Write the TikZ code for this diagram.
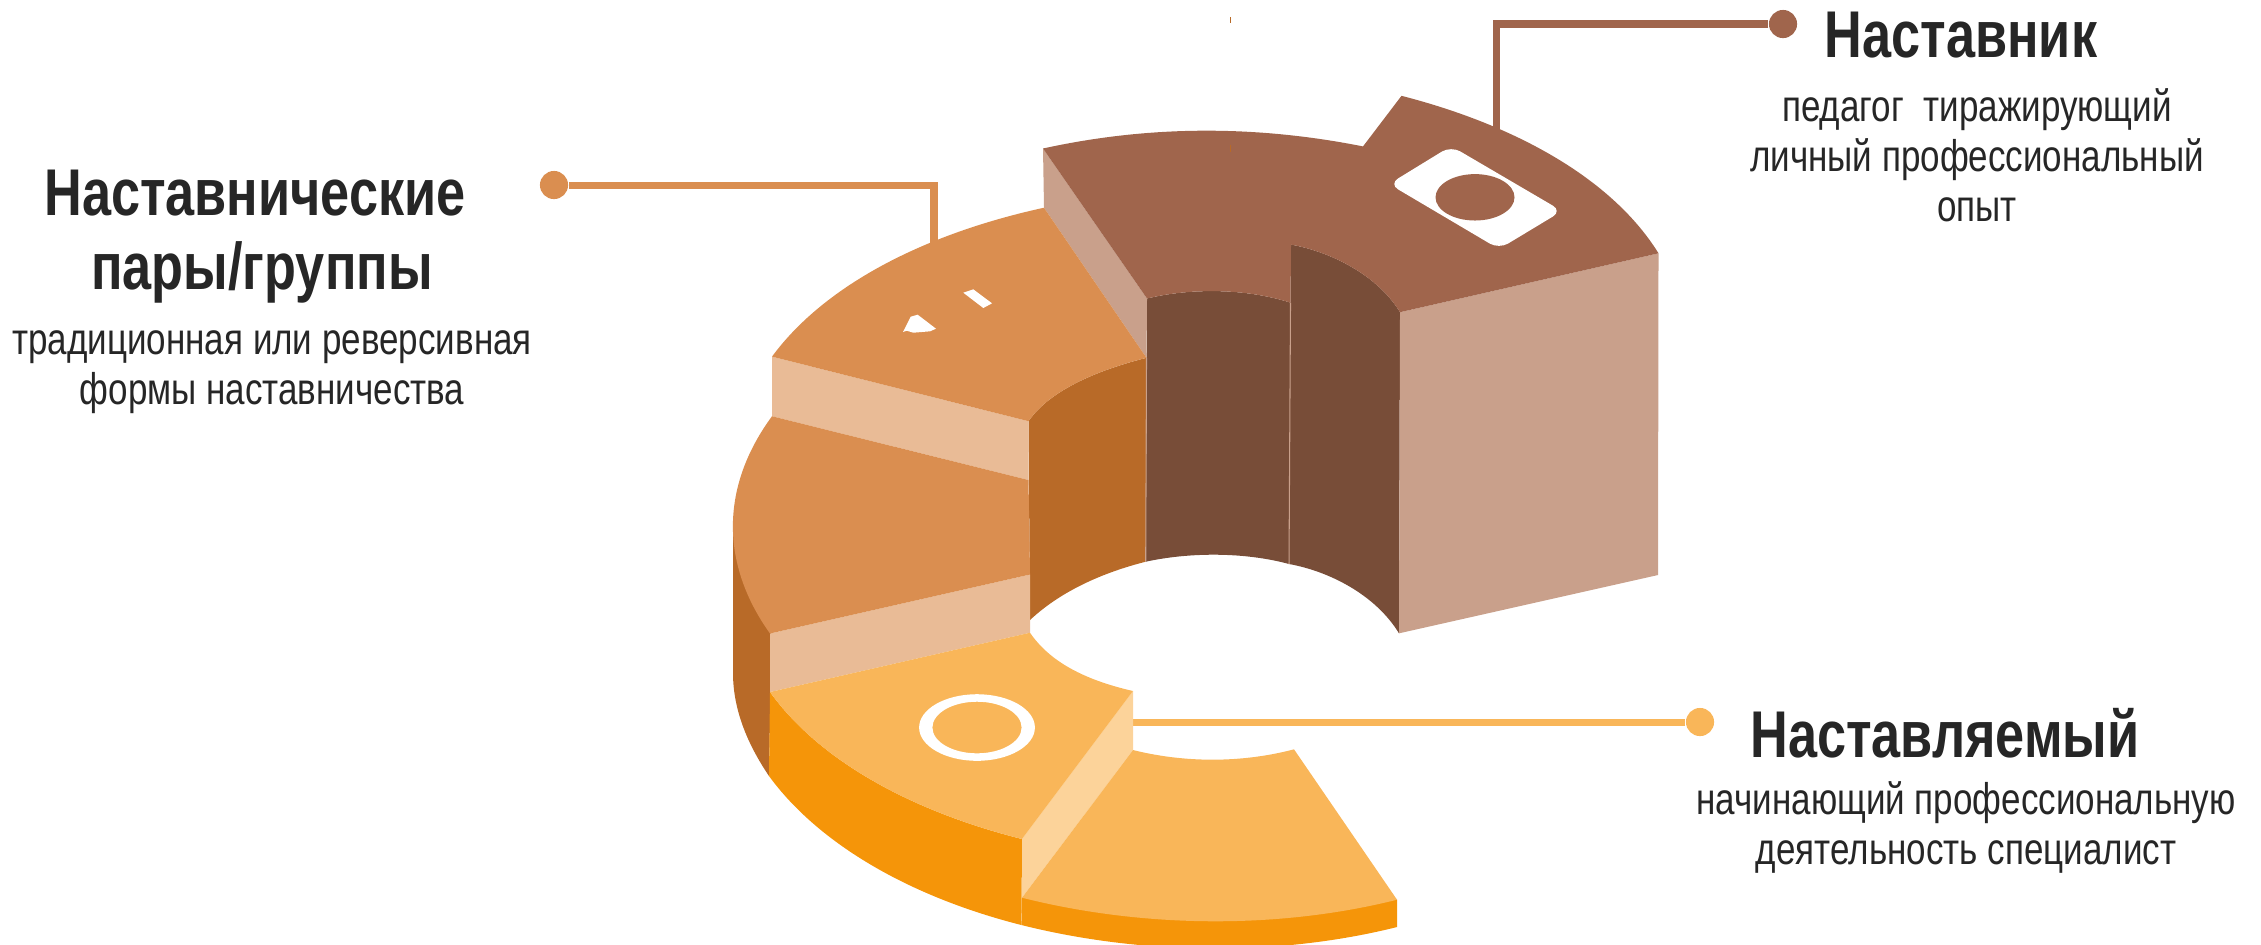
\documentclass[tikz,border=0pt]{standalone}
\usepackage{fontspec}
\usepackage{xcolor}
\usepackage{tikz}
\usetikzlibrary{
  positioning,
  shapes.geometric
}
\setmainfont[FakeStretch=0.79]{Liberation Sans}
\definecolor{mtBrown}{HTML}{A0654C}
\definecolor{mtBrownLt}{HTML}{C9A08B}
\definecolor{mtBrownDk}{HTML}{784D38}
\definecolor{mtOrange}{HTML}{DA8E50}
\definecolor{mtOrangeLt}{HTML}{E9BB96}
\definecolor{mtOrangeDk}{HTML}{B86A28}
\definecolor{mtYellow}{HTML}{F9B659}
\definecolor{mtYellowLt}{HTML}{FCD39A}
\definecolor{mtYellowDk}{HTML}{F59509}
\definecolor{mtInk}{HTML}{262626}
\tikzset{
  dotnode/.style={circle, inner sep=0pt, minimum size=8pt, draw=none},
  link/.style={line width=2pt},
  seam/.style={mtBrownLt, line width=0.3pt},
  headtext/.style={font=\fontsize{18.8}{23}\selectfont\bfseries, text=mtInk, align=center, inner sep=0pt},
  bodytext/.style={font=\fontsize{12.6}{14.2}\selectfont, text=mtInk, align=center, inner sep=0pt}
}
\begin{document}
\begin{tikzpicture}[x=0.01cm, y=-0.01cm, node distance=4mm]
  \useasboundingbox (0,0) rectangle (2261,944);

  \node[dotnode, fill=mtBrown] (dotMentor) at (1783,24) {};
  \node[dotnode, fill=mtOrange] (dotPairs) at (554,185) {};
  \node[dotnode, fill=mtYellow] (dotMentee) at (1700,722) {};
  \coordinate (endMentor) at (1496,135);
  \coordinate (endPairs) at (934,245);
  \coordinate (endMentee) at (1130,722);
  \draw[link, mtBrown] (dotMentor) -| (endMentor);
  \draw[link, mtOrange] (dotPairs) -| (endPairs);
  \draw[link, mtYellow] (dotMentee) -- (endMentee);

  \fill[mtOrangeDk] (733,524) -- (733,673) .. controls (733,708.6) and (746.7,743) .. (769,776) -- (772,600) -- cycle;
  \fill[mtYellowDk] (770,692) .. controls (817.9,758.9) and (908.4,810.4) .. (1022,839) -- (1021.4,925) .. controls (908.4,896.4) and (817.9,843) .. (769,776) -- cycle;
  \fill[mtYellowDk] (1022,897.7) -- (1021.4,925) .. controls (1141,955) and (1277,957) .. (1397,927) -- (1397,899.7) -- cycle;

  \fill[mtBrownDk] (1147,298.5) -- (1145.7,561.7) .. controls (1190,552) and (1245,552) .. (1289,564) .. controls (1328,571) and (1375,594) .. (1399,633.3) -- (1400,312.2) .. controls (1377,274.6) and (1330,251.6) .. (1291,244.6) -- (1290.5,302.7) .. controls (1245,288) and (1190,288) .. cycle;
  \fill[mtOrangeDk] (1146.5,357.8) .. controls (1098,370) and (1050,390) .. (1028.5,421.2) -- (1030,620) .. controls (1062,590) and (1105,572) .. (1145.7,561.7) -- cycle;
  \fill[mtBrownLt] (1400,312.2) -- (1658.5,253.3) -- (1658,575) -- (1399,633.3) -- cycle;
  \fill[mtBrownLt] (1043,148.5) -- (1044,207.7) -- (1146.5,357.8) -- (1147,298.5) -- cycle;
  \draw[seam] (1290.5,302.7) -- (1289,564);
  \draw[seam] (1146.5,357.8) -- (1145.7,561.7);

  \fill[mtOrangeLt] (772,356.6) -- (1028.5,421.2) -- (1028.5,480) -- (772,416.2) -- cycle;
  \fill[mtOrange] (1044,207.7) -- (1146.5,357.8) .. controls (1098,370) and (1050,390) .. (1028.5,421.2) -- (772,356.6) .. controls (823.6,286.4) and (922,234.3) .. cycle;
  \fill[mtOrangeLt] (770,633.5) -- (1030,574.5) -- (1030,632.7) -- (770,692) -- cycle;
  \fill[mtOrange] (772,416.2) -- (1028.5,480) -- (1030,574.5) -- (770,633.5) .. controls (719.8,563.3) and (720.6,486.2) .. cycle;

  \fill[mtYellowLt] (1133,691) -- (1133,750) -- (1022,897.7) -- (1022,839) -- cycle;
  \fill[mtYellow] (770,692) -- (1030,632.7) .. controls (1050,662) and (1085,680) .. (1133,691) -- (1022,839) .. controls (908.4,810.4) and (817.9,758.9) .. cycle;
  \fill[mtYellow] (1133,750) .. controls (1185,763) and (1242,763) .. (1294,749.3) -- (1397,899.7) .. controls (1277,929.7) and (1141.7,927.8) .. (1022,897.7) -- cycle;
  \fill[white, even odd rule] (977,727.5) ellipse [x radius=57.9, y radius=33.3] (977,727.5) ellipse [x radius=44.6, y radius=25.8];

  \fill[mtBrown] (1043,148.5) .. controls (1149,125.2) and (1255.6,125) .. (1363,146.4) -- (1401.5,95.8) .. controls (1520.9,126.6) and (1613.9,181.4) .. (1658.5,253.3) -- (1400,312.2) .. controls (1377,274.6) and (1330,251.6) .. (1291,244.6) -- (1290.5,302.7) .. controls (1245,288) and (1190,288) .. (1147,298.5) -- cycle;
  \fill[white, rounded corners=3pt] (1451,146) -- (1562,211) -- (1499,249) -- (1389,184) -- cycle;
  \fill[mtBrown] (1475,197.3) ellipse [x radius=39.5, y radius=23.2];

  \fill[white] (963.3,292.7) -- (973.3,289.3) -- (992,303.3) -- (983.3,308) -- cycle;
  \fill[white] (903,332) -- (910.7,316.7) -- (917.7,314.7) -- (936,328.7) -- (930,331.3) -- (913.3,332.7) -- (906.7,330.7) -- cycle;
  \draw[mtOrangeDk, line width=0.25pt] (1230.6,17) -- (1230.6,23);
  \draw[mtOrangeDk, line width=0.25pt] (1230.6,145) -- (1230.6,152);

  \node[headtext] (headMentor) at (1961,35) {Наставник};
  \node[bodytext] (textMentor) at (1977,155) {педагог\ \ тиражирующий\\личный профессиональный\\опыт};
  \node[headtext] (headPairs) at (255,193) {Наставнические};
  \node[headtext] (subPairs) at (262,272) {пары/группы};
  \node[bodytext] (textPairs) at (272,372) {традиционная или реверсивная\\формы наставничества};
  \node[headtext] (headMentee) at (1945,733) {Наставляемый};
  \node[bodytext] (textMentee) at (1966,827) {начинающий профессиональную\\деятельность специалист};
\end{tikzpicture}
\end{document}
